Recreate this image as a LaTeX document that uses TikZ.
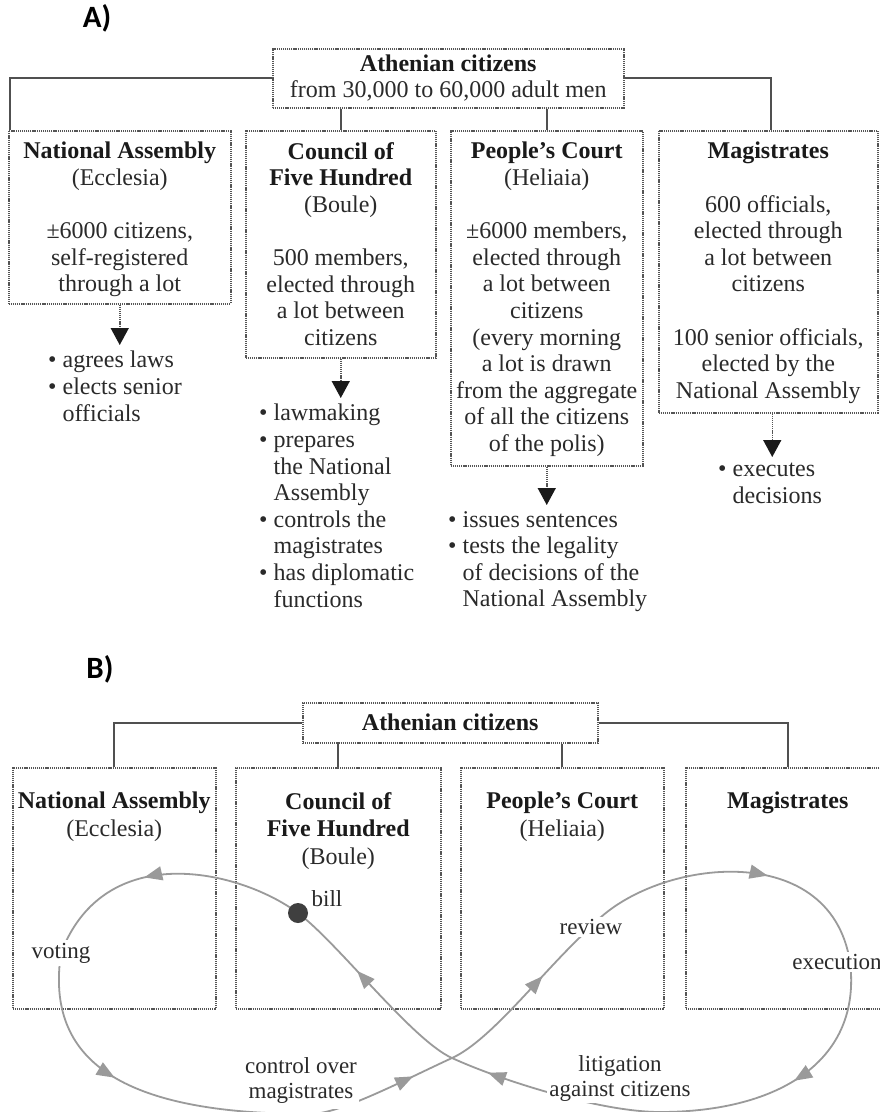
\documentclass[tikz,border=0pt]{standalone}
\usepackage{fontspec}
\setmainfont{Liberation Serif}
\newfontfamily\labfont{Carlito}
\usetikzlibrary{arrows.meta,decorations.markings,calc}
\definecolor{txt}{HTML}{2A2A2A}
\definecolor{hdr}{HTML}{1A1A1A}
\definecolor{lin}{HTML}{505050}
\definecolor{dotc}{HTML}{555555}
\definecolor{cur}{HTML}{9A9A9A}
\definecolor{billc}{HTML}{3F3F3F}
\newcommand{\hdtxt}[1]{\textbf{\color{hdr}#1}}
\newcommand{\bulind}{\phantom{•\ }}
\tikzset{
  con/.style={draw=lin, line width=2pt},
  dbox/.style={draw=dotc, line width=1.5pt, dash pattern=on 1.2pt off 0.9pt, inner sep=0pt, anchor=north west},
  btxt/.style={align=center, inner sep=0pt, anchor=north, text=txt, font=\fontsize{24}{26.6}\selectfont},
  btxtb/.style={align=center, inner sep=0pt, anchor=north, text=txt, font=\fontsize{24}{27.5}\selectfont},
  blist/.style={align=left, inner sep=0pt, anchor=north west, text=txt, font=\fontsize{24}{26.6}\selectfont},
  darr/.style={draw=dotc, line width=1.5pt, dash pattern=on 1.2pt off 0.9pt, -{Triangle[width=18pt,length=17pt,color=hdr]}, shorten >=6pt},
  curve/.style={draw=cur, line width=1.8pt},
  mid/.style={postaction={decorate}, decoration={markings, mark=at position #1 with {\arrow{Triangle[width=14pt,length=18pt]}}}},
  lab/.style={fill=white, inner sep=2.5pt, text=txt, align=center, font=\fontsize{23}{25}\selectfont},
  part/.style={font=\fontsize{31}{33}\labfont\bfseries, text=black, inner sep=0pt},
}
\begin{document}
\begin{tikzpicture}[x=1pt,y=-1pt]
\useasboundingbox (0,0) rectangle (880,1112);
\fill[white] (0,0) rectangle (880,1112);

% ---------------- Part A ----------------
\node[part] (LA) at (97,18) {A)};
\node[dbox, minimum width=351pt, minimum height=59pt, align=center, text=txt,
      font=\fontsize{24}{25.5}\selectfont] (AT) at (272,48)
      {\hdtxt{Athenian citizens}\\from 30,000 to 60,000 adult men};

\node[dbox, minimum width=222pt, minimum height=173pt] (A1) at (8,130) {};
\node[dbox, minimum width=190pt, minimum height=227pt] (A2) at (245,130) {};
\node[dbox, minimum width=192pt, minimum height=335pt] (A3) at (450,130) {};
\node[dbox, minimum width=219pt, minimum height=282pt] (A4) at (658,130) {};

\node[btxt] (A1t) at ([yshift=-12pt]A1.north)
  {\hdtxt{National Assembly}\\(Ecclesia)\\[26.6pt]±6000 citizens,\\self-registered\\through a lot};
\node[btxt] (A2t) at ([yshift=-12pt]A2.north)
  {\hdtxt{Council of}\\\hdtxt{Five Hundred}\\(Boule)\\[26.6pt]500 members,\\elected through\\a lot between\\citizens};
\node[btxt] (A3t) at ([yshift=-12pt]A3.north)
  {\hdtxt{People’s Court}\\(Heliaia)\\[26.6pt]±6000 members,\\elected through\\a lot between\\citizens\\(every morning\\a lot is drawn\\from the aggregate\\of all the citizens\\of the polis)};
\node[btxt] (A4t) at ([yshift=-12pt]A4.north)
  {\hdtxt{Magistrates}\\[26.6pt]600 officials,\\elected through\\a lot between\\citizens\\[26.6pt]100 senior officials,\\elected by the\\National Assembly};

\node[blist] (A1l) at (48,351) {• agrees laws\\• elects senior\\\bulind officials};
\node[blist] (A2l) at (259,404) {• lawmaking\\• prepares\\\bulind the National\\\bulind Assembly\\• controls the\\\bulind magistrates\\• has diplomatic\\\bulind functions};
\node[blist] (A3l) at (448,511) {• issues sentences\\• tests the legality\\\bulind of decisions of the\\\bulind National Assembly};
\node[blist] (A4l) at (718,463) {• executes\\\bulind decisions};

\draw[con] (AT.west) -| ([xshift=2pt]A1.north west);
\draw[con] (AT.east) -| ([xshift=3pt]A4.north);
\draw[con] (AT.south -| A2.north) -- (A2.north);
\draw[con] (AT.south -| A3.north) -- (A3.north);

\draw[darr] (A1.south) -- (A1.south |- A1l.north);
\draw[darr] (A2.south) -- (A2.south |- A2l.north);
\draw[darr] (A3.south) -- (A3.south |- A3l.north);
\draw[darr] ([xshift=4pt]A4.south) -- ([xshift=4pt]A4.south |- A4l.north);

% ---------------- Part B ----------------
\node[part] (LB) at (100,669) {B)};
\node[dbox, minimum width=295pt, minimum height=40pt, text=txt,
      font=\fontsize{24}{26}\selectfont] (BT) at (302,702) {\hdtxt{Athenian citizens}};

\node[dbox, minimum width=203pt, minimum height=241pt] (B1) at (12,767) {};
\node[dbox, minimum width=205pt, minimum height=241pt] (B2) at (235,767) {};
\node[dbox, minimum width=203pt, minimum height=241pt] (B3) at (460,767) {};
\node[dbox, minimum width=204pt, minimum height=241pt] (B4) at (685,767) {};

\node[btxtb] (B1t) at ([yshift=-25pt]B1.north) {\hdtxt{National Assembly}\\(Ecclesia)};
\node[btxtb] (B2t) at ([yshift=-25pt]B2.north) {\hdtxt{Council of}\\\hdtxt{Five Hundred}\\(Boule)};
\node[btxtb] (B3t) at ([yshift=-25pt]B3.north) {\hdtxt{People’s Court}\\(Heliaia)};
\node[btxtb] (B4t) at ([yshift=-25pt]B4.north) {\hdtxt{Magistrates}};

\draw[con] (BT.west) -| (B1.north);
\draw[con] (BT.east) -| (B4.north);
\draw[con] (BT.south -| B2.north) -- (B2.north);
\draw[con] (BT.south -| B3.north) -- (B3.north);

% curve anchors
\coordinate (bp) at (298,913);
\coordinate (vp) at (61,953);
\coordinate (rp) at (591,927);
\coordinate (X) at (452,1058);
\coordinate (L1) at (310,1114);
\coordinate (R1) at (660,1112);
\coordinate (E1) at (850,962);

\draw[curve, mid=0.58] (bp) .. controls (240,870) and (105,838) .. (vp);
\draw[curve, mid=0.42] (vp) .. controls (45,1060) and (120,1114) .. (L1);
\draw[curve, mid=0.72] (L1) .. controls (340,1114) and (400,1082) .. (X);
\draw[curve, mid=0.64] (X) .. controls (492,1040) and (545,968) .. (rp);
\draw[curve, mid=0.6] (rp) .. controls (650,860) and (830,835) .. (E1);
\draw[curve, mid=0.5] (E1) .. controls (862,1060) and (780,1112) .. (R1);
\draw[curve, mid=0.82] (R1) .. controls (600,1112) and (500,1080) .. (X);
\draw[curve, mid=0.61] (X) .. controls (412,1040) and (338,943) .. (bp);

\node[lab] (vot) at (vp) {voting};
\node[lab] (rev) at (rp) {review};
\node[lab] (exe) at (837,962) {execution};
\node[lab, inner ysep=6pt] (ctl) at (301,1080) {control over\\magistrates};
\node[lab] (lit) at (620,1078) {litigation\\against citizens};
\node[lab, fill=none] (billl) at (327,899) {bill};
\node[circle, fill=billc, minimum size=20pt, inner sep=0pt] (bill) at (bp) {};
\end{tikzpicture}
\end{document}
